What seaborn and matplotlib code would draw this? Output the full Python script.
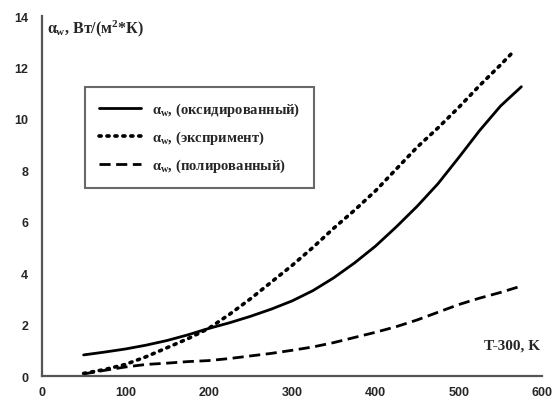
import matplotlib
matplotlib.use("Agg")
import matplotlib.pyplot as plt
import seaborn as sns
import pandas as pd

x_vals = [50, 75, 100, 125, 150, 175, 200, 225, 250, 275, 300, 325, 350, 375,
          400, 425, 450, 475, 500, 525, 550, 575]
x_exper = [50, 75, 100, 125, 150, 175, 200, 225, 250, 275, 300, 325, 350, 375,
           400, 425, 450, 475, 500, 525, 550, 565]
oxid = [0.82, 0.93, 1.05, 1.2, 1.38, 1.6, 1.85, 2.07, 2.32, 2.6, 2.92, 3.32, 3.82,
        4.4, 5.05, 5.8, 6.6, 7.48, 8.5, 9.55, 10.5, 11.25]
exper = [0.1, 0.25, 0.45, 0.75, 1.1, 1.45, 1.85, 2.4, 3.0, 3.65, 4.3, 5.0, 5.75,
         6.45, 7.2, 8.05, 8.9, 9.65, 10.45, 11.3, 12.1, 12.6]
polish = [0.08, 0.22, 0.35, 0.45, 0.5, 0.56, 0.6, 0.68, 0.78, 0.88, 1.0, 1.13,
          1.3, 1.5, 1.7, 1.92, 2.18, 2.48, 2.78, 3.03, 3.25, 3.5]
labels = [r"$\alpha_{w}$, (оксидированный)",
          r"$\alpha_{w}$, (экспримент)",
          r"$\alpha_{w}$, (полированный)"]
x_ticks = [0, 100, 200, 300, 400, 500, 600]
y_ticks = [0, 2, 4, 6, 8, 10, 12, 14]

sns.set_style("white")
plt.rcParams["font.family"] = ["Liberation Serif", "DejaVu Serif"]
plt.rcParams["mathtext.fontset"] = "custom"
plt.rcParams["mathtext.rm"] = "Liberation Serif:bold"
plt.rcParams["mathtext.it"] = "Liberation Serif:bold"
plt.rcParams["mathtext.bf"] = "Liberation Serif:bold"

fig = plt.figure(figsize=(5.59, 4.06), dpi=100)
ax = fig.add_axes([0.075, 0.0714, 0.895, 0.8867])

df = pd.DataFrame({"x": x_vals + x_exper + x_vals,
                   "y": oxid + exper + polish,
                   "s": [labels[0]] * len(x_vals) + [labels[1]] * len(x_exper) + [labels[2]] * len(x_vals)})

styles = [dict(linestyle="-", lw=2.0),
          dict(linestyle=(0, (0.6, 1.6)), lw=2.6, dash_capstyle="round"),
          dict(linestyle=(0, (4, 2.0)), lw=2.0)]
for lab, st in zip(labels, styles):
    sub = df[df["s"] == lab]
    sns.lineplot(data=sub, x="x", y="y", ax=ax, color="black", label=lab, **st)

ax.set_xlim(0, 600)
ax.set_ylim(0, 14)
ax.set_xticks(x_ticks)
ax.set_yticks(y_ticks)
ax.set_xlabel("")
ax.set_ylabel("")
for sp in ["top", "right"]:
    ax.spines[sp].set_visible(False)
for sp in ["left", "bottom"]:
    ax.spines[sp].set_color("#555555")
    ax.spines[sp].set_linewidth(1.6)
ax.tick_params(axis="y", direction="out", length=4, width=1.3, color="#555555", pad=6)
ax.tick_params(axis="x", direction="inout", length=7, width=1.3, color="#555555", pad=4)
for t in ax.get_xticklabels() + ax.get_yticklabels():
    t.set_fontfamily("Liberation Sans")
    t.set_fontweight("bold")
    t.set_fontsize(9)

ax.text(0.01, 0.997, r"$\alpha_{w}$, Вт/(м$^{2}$*К)", transform=ax.transAxes,
        fontsize=11.5, fontweight="bold", va="top", ha="left")
ax.text(0.995, 0.085, "T-300, K", transform=ax.transAxes,
        fontsize=11, fontweight="bold", va="center", ha="right")

leg = ax.legend(loc="upper left", bbox_to_anchor=(0.072, 0.823), frameon=True,
                fancybox=False, edgecolor="#444444", handlelength=2.9,
                borderpad=0.95, labelspacing=0.72, handletextpad=0.7,
                prop={"weight": "bold", "size": 10.5})
leg.get_frame().set_linewidth(1.5)

fig.savefig("out.png", dpi=100)
